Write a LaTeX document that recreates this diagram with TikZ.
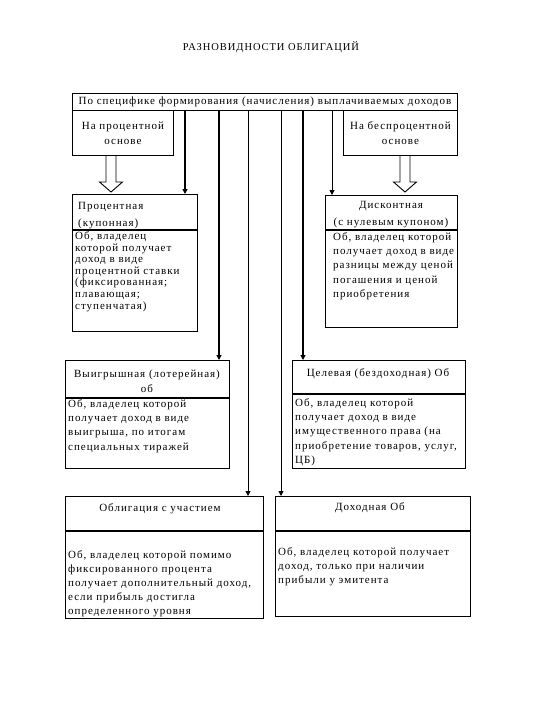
\documentclass[tikz,border=0pt]{standalone}
\usepackage{fontspec}
\setmainfont{Liberation Serif}[LetterSpace=9]
\usetikzlibrary{arrows.meta}

\tikzset{
  frame/.style={draw, line width=0.9pt, inner sep=0pt, anchor=north west},
  lbl/.style={inner sep=0pt, align=left, anchor=north west, font=\fontsize{11}{14.2}\selectfont},
  clbl/.style={inner sep=0pt, align=center, anchor=north, font=\fontsize{11}{14.2}\selectfont},
  fatarr/.style={line width=2pt, -{Triangle[length=5pt,width=5pt]}},
  slimarr/.style={line width=0.9pt, -{Triangle[length=5pt,width=5pt]}},
  hollow/.style={line width=0.9pt}
}

\begin{document}
\begin{tikzpicture}[x=1pt,y=-1pt]
\useasboundingbox (0,0) rectangle (540,720);
\node[inner sep=0pt, font=\fontsize{10.5}{12}\selectfont] (title) at (271,47) {РАЗНОВИДНОСТИ ОБЛИГАЦИЙ};

% top row
\node[frame, anchor=north west, minimum width=385, minimum height=17, font=\fontsize{11}{12}\selectfont] (top) at (72,93) {По специфике формирования (начисления) выплачиваемых доходов};
\node[frame, minimum width=101, minimum height=45, align=center, font=\fontsize{11}{15}\selectfont] (lsub) at (72,110) {На процентной\\основе};
\node[frame, minimum width=114, minimum height=45, align=center, font=\fontsize{11}{15}\selectfont] (rsub) at (343,110) {На беспроцентной\\основе};

% boxes
\node[frame, minimum width=125, minimum height=35] (proc) at (72,194) {};
\node[frame, minimum width=125, minimum height=101] (procb) at (proc.south west) {};
\node[frame, minimum width=132, minimum height=34] (disc) at (325,195) {};
\node[frame, minimum width=132, minimum height=97] (discb) at (disc.south west) {};
\node[frame, minimum width=164, minimum height=37] (win) at (65,360) {};
\node[frame, minimum width=164, minimum height=70] (winb) at (win.south west) {};
\node[frame, minimum width=173, minimum height=33] (goal) at (292,360) {};
\node[frame, minimum width=173, minimum height=74] (goalb) at (goal.south west) {};
\node[frame, minimum width=198, minimum height=34] (part) at (65,496) {};
\node[frame, minimum width=198, minimum height=87] (partb) at (part.south west) {};
\node[frame, minimum width=195, minimum height=34] (inc) at (275,496) {};
\node[frame, minimum width=195, minimum height=85] (incb) at (inc.south west) {};

% texts
\node[lbl, font=\fontsize{11}{16.7}\selectfont] (proct) at (78,202) {Процентная\\(купонная)};
\node[lbl, font=\fontsize{11}{11.6}\selectfont] (procbt) at (75,231.5) {Об, владелец\\которой получает\\доход в виде\\процентной ставки\\(фиксированная;\\плавающая;\\ступенчатая)};
\node[clbl, font=\fontsize{11}{16.7}\selectfont] (disct) at (391,201) {Дисконтная\\(с нулевым купоном)};
\node[lbl] (discbt) at (333,232.5) {Об, владелец которой\\получает доход в виде\\разницы между ценой\\погашения и ценой\\приобретения};
\node[clbl] (wint) at (147,370) {Выигрышная (лотерейная)\\об};
\node[lbl] (winbt) at (68,399.5) {Об, владелец которой\\получает доход в виде\\выигрыша, по итогам\\специальных тиражей};
\node[clbl] (goalt) at (378,368) {Целевая (бездоходная) Об};
\node[lbl] (goalbt) at (295,398.5) {Об, владелец которой\\получает доход в виде\\имущественного права (на\\приобретение товаров, услуг,\\ЦБ)};
\node[clbl] (partt) at (160,503) {Облигация с участием};
\node[lbl] (partbt) at (68,550) {Об, владелец которой помимо\\фиксированного процента\\получает дополнительный доход,\\если прибыль достигла\\определенного уровня};
\node[clbl] (inct) at (370,502) {Доходная Об};
\node[lbl] (incbt) at (278,547) {Об, владелец которой получает\\доход, только при наличии\\прибыли у эмитента};

% hollow arrows
\coordinate (h1) at (111,155);
\coordinate (h2) at (405,155);
\draw[hollow] (h1) ++(-5,0) -- ++(0,27) -- ++(-6.5,0) -- ++(11.5,10) -- ++(11.5,-10) -- ++(-6.5,0) -- ++(0,-27);
\draw[hollow] (h2) ++(-5,0) -- ++(0,27) -- ++(-6.5,0) -- ++(11.5,10) -- ++(11.5,-10) -- ++(-6.5,0) -- ++(0,-27);

% arrows from the top box
\coordinate (t1) at (185,110);
\coordinate (t2) at (219,110);
\coordinate (t3) at (248,110);
\coordinate (t4) at (281,110);
\coordinate (t5) at (303,110);
\coordinate (t6) at (332,110);
\draw[fatarr] (t1) -- (t1 |- proc.north);
\draw[fatarr] (t2) -- (t2 |- win.north);
\draw[slimarr] (t3) -- (t3 |- part.north);
\draw[slimarr] (t4) -- (t4 |- inc.north);
\draw[fatarr] (t5) -- (t5 |- goal.north);
\draw[slimarr] (t6) -- (t6 |- disc.north);
\end{tikzpicture}
\end{document}
